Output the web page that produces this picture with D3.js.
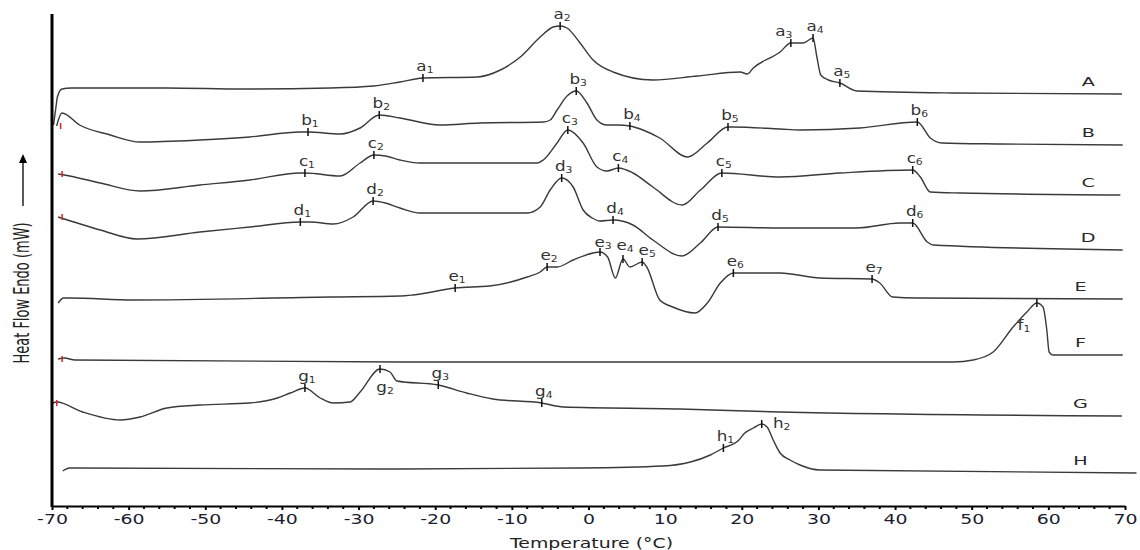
<!DOCTYPE html>
<html>
<head>
<meta charset="utf-8">
<script src="https://cdn.jsdelivr.net/npm/d3@7"></script>
<style>
  html, body { margin: 0; padding: 0; background: #fff; }
  svg { display: block; }
</style>
</head>
<body>
<div id="chart"></div>
<script>
// Thermograms: [temperature (°C), heat flow (mW, stacked offset)]
var seriesNames = ["A", "B", "C", "D", "E", "F", "G", "H"];

var seriesA = [[-69.8, 38.1], [-69.5, 39.8], [-69.3, 40.9], [-68.7, 41.7], [-67.5, 41.8], [-55, 41.8], [-45, 41.7],
  [-33.7, 41.8], [-28, 42.0], [-24.6, 42.4], [-21.6, 42.8], [-14.5, 42.9], [-11.5, 43.6], [-8.9, 44.9], [-6.3, 46.9],
  [-4.6, 47.9], [-3.7, 48.0], [-2.8, 47.8], [-1.1, 46.3], [0.6, 44.6], [3.2, 43.4], [8.4, 42.6], [14.2, 43.0],
  [19.8, 43.4], [20.7, 43.2], [21.5, 43.8], [25.0, 45.4], [26.4, 46.3], [28.0, 46.3], [29.3, 46.8], [29.8, 44.9],
  [30.3, 43.1], [31.3, 42.6], [32.8, 42.3], [35.0, 41.5], [47.6, 41.3], [69.6, 41.2]];

var seriesB = [[-69.4, 38.0], [-68.7, 39.3], [-66.4, 38.1], [-62.4, 37.1], [-58.5, 36.4], [-50.7, 36.6], [-44.2, 36.9],
  [-37.6, 37.4], [-36.6, 37.4], [-32.4, 37.2], [-29.8, 37.8], [-27.3, 39.1], [-24.6, 38.8], [-19.4, 38.1],
  [-14.2, 38.3], [-5.9, 38.4], [-5.0, 38.6], [-4.1, 39.6], [-2.8, 41.0], [-1.6, 41.5], [-0.2, 40.3], [1.1, 38.6],
  [2.4, 38.1], [3.9, 38.1], [5.4, 38.0], [7.1, 37.6], [9.3, 36.8], [12.9, 34.9], [15.5, 36.3], [18.2, 37.9],
  [18.9, 37.9], [25.0, 37.7], [27.6, 37.6], [35.4, 37.8], [42.9, 38.4], [44.6, 36.8], [46.1, 36.3], [53.7, 36.2],
  [69.7, 36.1]];

var seriesC = [[-69.2, 33.2], [-68.4, 33.1], [-63.7, 32.3], [-58.5, 31.5], [-50.7, 32.1], [-44.2, 32.6], [-37.6, 33.3],
  [-37.0, 33.3], [-32.4, 33.0], [-29.8, 34.3], [-28.0, 35.1], [-26.5, 35.0], [-24.6, 34.6], [-22.0, 34.3], [-6.7, 34.3],
  [-5.9, 34.6], [-4.1, 36.3], [-2.7, 37.6], [-0.7, 36.3], [1.1, 33.9], [2.4, 33.5], [3.9, 33.8], [5.8, 33.3],
  [8.4, 31.9], [12.2, 30.1], [14.6, 31.6], [17.4, 33.3], [25.0, 32.9], [32.8, 33.3], [42.3, 33.6], [43.3, 32.9],
  [44.6, 31.4], [48.5, 31.3], [69.4, 31.1]];

var seriesD = [[-69.2, 28.9], [-63.7, 27.6], [-58.9, 26.7], [-50.7, 27.4], [-44.2, 27.9], [-37.6, 28.4], [-36.3, 28.4],
  [-33.3, 28.2], [-30.7, 28.9], [-28.1, 30.5], [-26.5, 30.3], [-24.6, 29.8], [-22.0, 29.3], [-8.0, 29.3], [-6.3, 29.9],
  [-5.0, 31.6], [-3.5, 32.8], [-2.0, 31.9], [-0.7, 29.6], [0.5, 28.8], [1.5, 28.5], [3.2, 28.6], [5.8, 28.1],
  [8.4, 26.6], [12.2, 25.0], [14.6, 26.3], [16.9, 27.9], [25.0, 27.8], [35.0, 27.8], [40.6, 28.3], [42.3, 28.3],
  [44.2, 26.4], [45.0, 26.1], [69.7, 25.6]];

var seriesE = [[-69.2, 20.3], [-68.5, 20.8], [-67.6, 20.8], [-59.4, 20.6], [-33.7, 20.9], [-24.6, 21.0], [-22.9, 21.1], [-17.4, 21.8],
  [-12.9, 22.0], [-8.0, 22.9], [-6.3, 23.4], [-5.4, 23.9], [-4.1, 23.9], [-2.0, 24.6], [0.6, 25.3], [1.5, 25.4],
  [2.5, 24.9], [3.5, 22.8], [4.5, 24.7], [5.4, 23.9], [7.0, 24.4], [7.6, 23.9], [9.3, 20.6], [11.0, 19.9],
  [13.9, 19.3], [15.5, 20.3], [17.2, 22.3], [18.9, 23.3], [25.0, 23.3], [30.2, 22.8], [37.0, 22.7], [38.0, 22.3],
  [39.7, 20.9], [42.9, 20.8], [69.7, 20.7]];

var seriesF = [[-69.2, 14.7], [-68.4, 14.8], [-67.0, 14.6], [-24.6, 14.4], [47.6, 14.4], [50.2, 14.6], [52.8, 15.4],
  [55.4, 17.9], [57.2, 19.4], [58.5, 20.3], [59.3, 19.9], [59.8, 17.6], [60.1, 15.4], [60.6, 15.1], [69.7, 15.1]];

var seriesG = [[-69.9, 10.3], [-69.4, 10.4], [-66.0, 9.4], [-61.1, 8.6], [-58.5, 8.9], [-55.0, 9.8], [-50.7, 10.1],
  [-44.2, 10.3], [-40.6, 10.8], [-38.9, 11.3], [-37.0, 11.8], [-35.0, 10.8], [-33.3, 10.3], [-31.1, 10.4],
  [-29.8, 11.4], [-27.2, 13.7], [-25.9, 13.4], [-25.0, 12.5], [-19.6, 12.1], [-15.9, 11.3], [-12.5, 10.7],
  [-6.1, 10.3], [-3.3, 9.9], [11.9, 9.7], [25.0, 9.4], [69.6, 9.0]];

var seriesH = [[-68.6, 3.5], [-67.7, 3.8], [-24.6, 3.7], [-1.1, 3.8], [9.7, 4.0], [13.3, 4.4], [15.9, 5.1],
  [17.6, 5.8], [19.5, 6.5], [20.4, 7.3], [21.5, 7.8], [22.6, 8.2], [23.3, 7.9], [24.1, 6.6], [25.0, 5.3],
  [26.3, 4.6], [27.6, 4.1], [30.2, 3.6], [71.5, 3.3]];

// Marked transitions: [letter, index, temperature, heat flow]
var peaksA = [["a", "1", -21.6, 42.8], ["a", "2", -3.7, 48.0], ["a", "3", 26.4, 46.3], ["a", "4", 29.3, 46.8], ["a", "5", 32.8, 42.3]];
var peaksB = [["b", "1", -36.6, 37.4], ["b", "2", -27.3, 39.1], ["b", "3", -1.6, 41.5], ["b", "4", 5.4, 38.0], ["b", "5", 18.2, 37.9], ["b", "6", 42.9, 38.4]];
var peaksC = [["c", "1", -37.0, 33.3], ["c", "2", -28.0, 35.1], ["c", "3", -2.7, 37.6], ["c", "4", 3.9, 33.8], ["c", "5", 17.4, 33.3], ["c", "6", 42.3, 33.6]];
var peaksD = [["d", "1", -37.6, 28.4], ["d", "2", -28.1, 30.5], ["d", "3", -3.5, 32.8], ["d", "4", 3.2, 28.6], ["d", "5", 16.9, 27.9], ["d", "6", 42.3, 28.3]];
var peaksE = [["e", "1", -17.4, 21.8], ["e", "2", -5.4, 23.9], ["e", "3", 1.5, 25.4], ["e", "4", 4.5, 24.7], ["e", "5", 7.0, 24.4], ["e", "6", 18.9, 23.3], ["e", "7", 37.0, 22.7]];
var peaksF = [["f", "1", 58.5, 20.3]];
var peaksG = [["g", "1", -37.0, 11.8], ["g", "2", -27.2, 13.7], ["g", "3", -19.6, 12.1], ["g", "4", -6.1, 10.3]];
var peaksH = [["h", "1", 17.6, 5.8], ["h", "2", 22.6, 8.2]];

var xTicks = d3.range(-70, 71, 10);
var xMinorTicks = d3.range(-70, 71, 2);

var allSeries = [seriesA, seriesB, seriesC, seriesD, seriesE, seriesF, seriesG, seriesH];
var allPeaks = [].concat(peaksA, peaksB, peaksC, peaksD, peaksE, peaksF, peaksG, peaksH);

var width = 1140, height = 550;
var font = "'DejaVu Sans', Verdana, sans-serif";

var svg = d3.select("#chart").append("svg")
  .attr("width", width)
  .attr("height", height);

var x = d3.scaleLinear().domain([-70, 70]).range([52, 1125]);
var y = d3.scaleLinear().domain([0, 49]).range([506, 16]);

var line = d3.line()
  .x(function (d) { return x(d[0]); })
  .y(function (d) { return y(d[1]); })
  .curve(d3.curveMonotoneX);

// curves
svg.append("g")
  .selectAll("path")
  .data(allSeries)
  .enter().append("path")
  .attr("d", line)
  .attr("fill", "none")
  .attr("stroke", "#3a3a3a")
  .attr("stroke-width", 1.4);

// little red start markers left by the instrument software
svg.append("g")
  .selectAll("line")
  .data([seriesB, seriesC, seriesD, seriesF, seriesG])
  .enter().append("line")
  .attr("x1", function (d) { return x(d[0][0]) + 4; })
  .attr("x2", function (d) { return x(d[0][0]) + 4; })
  .attr("y1", function (d) { return y(d[0][1]) - 3; })
  .attr("y2", function (d) { return y(d[0][1]) + 3; })
  .attr("stroke", "#e0201a")
  .attr("stroke-width", 1.5);

// series letters at the right end
svg.append("g")
  .selectAll("text")
  .data(allSeries)
  .enter().append("text")
  .attr("transform", function (d, i) {
    var last = d[d.length - 1];
    var tx = x(i < 4 ? 65.2 : 64.2);
    return "translate(" + tx + "," + (y(last[1]) - 8) + ") scale(1.6,1)";
  })
  .attr("text-anchor", "middle")
  .attr("font-family", font)
  .attr("font-size", 12)
  .attr("fill", "#2a2a2a")
  .text(function (d, i) { return seriesNames[i]; });

// peak ticks
svg.append("g")
  .selectAll("line")
  .data(allPeaks)
  .enter().append("line")
  .attr("x1", function (d) { return x(d[2]); })
  .attr("x2", function (d) { return x(d[2]); })
  .attr("y1", function (d) { return y(d[3]) - 4; })
  .attr("y2", function (d) { return y(d[3]) + 4; })
  .attr("stroke", "#111")
  .attr("stroke-width", 1.5);

// label offsets (px) for the few labels not sitting straight above their tick
var labelShift = { a3: [-7, -7], f1: [-13, 27], g2: [5, 23], h2: [20, 4], e3: [3, -5], e4: [2, -9], e5: [5, -7] };

var peakLabel = svg.append("g")
  .selectAll("text")
  .data(allPeaks)
  .enter().append("text")
  .attr("transform", function (d) {
    var s = labelShift[d[0] + d[1]] || [2, -7];
    return "translate(" + (x(d[2]) + s[0]) + "," + (y(d[3]) + s[1]) + ") scale(1.2,1)";
  })
  .attr("text-anchor", "middle")
  .attr("font-family", font)
  .attr("font-size", 14)
  .attr("fill", "#333");

peakLabel.append("tspan").text(function (d) { return d[0]; });
peakLabel.append("tspan")
  .attr("font-size", 9)
  .attr("dy", 2)
  .text(function (d) { return d[1]; });

// x axis
var xAxis = svg.append("g")
  .attr("transform", "translate(0," + y(0) + ")")
  .call(d3.axisBottom(x).tickValues(xTicks).tickSize(4).tickSizeOuter(0).tickPadding(4)
    .tickFormat(function (d) { return String(d); }));

xAxis.select(".domain").attr("stroke", "#000").attr("stroke-width", 2);
xAxis.selectAll(".tick line").attr("stroke", "#000").attr("stroke-width", 2);
xAxis.selectAll(".tick text")
  .attr("font-family", font)
  .attr("font-size", 13.5)
  .attr("fill", "#1c1c30")
  .attr("transform", "scale(1.4,1)");

svg.append("g")
  .selectAll("line")
  .data(xMinorTicks.filter(function (t) { return t % 10 !== 0; }))
  .enter().append("line")
  .attr("x1", function (d) { return x(d); })
  .attr("x2", function (d) { return x(d); })
  .attr("y1", y(0))
  .attr("y2", y(0) + 3)
  .attr("stroke", "#000")
  .attr("stroke-width", 2);

svg.append("text")
  .attr("transform", "translate(" + ((x(-70) + x(70)) / 2 + 3) + ",548) scale(1.35,1)")
  .attr("text-anchor", "middle")
  .attr("font-family", font)
  .attr("font-size", 14)
  .attr("fill", "#222")
  .text("Temperature (°C)");

// y axis: plain heavy line, no ticks
svg.append("line")
  .attr("x1", x(-70)).attr("x2", x(-70))
  .attr("y1", 14).attr("y2", y(0) + 1)
  .attr("stroke", "#000")
  .attr("stroke-width", 3);

svg.append("text")
  .attr("transform", "translate(22,293) scale(1.6,1) rotate(-90)")
  .attr("text-anchor", "middle")
  .attr("dy", "0.35em")
  .attr("font-family", font)
  .attr("font-size", 13)
  .attr("fill", "#222")
  .text("Heat Flow Endo (mW)");

// endo-up arrow
svg.append("line")
  .attr("x1", 23).attr("x2", 23)
  .attr("y1", 206).attr("y2", 162)
  .attr("stroke", "#000")
  .attr("stroke-width", 1.3);
svg.append("path")
  .attr("d", "M23,154 L19,163 L27,163 Z")
  .attr("fill", "#000");
</script>
</body>
</html>
